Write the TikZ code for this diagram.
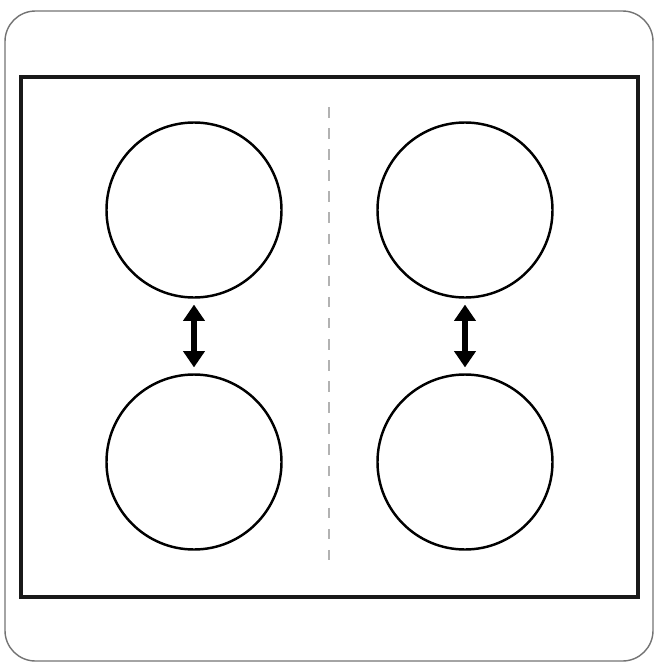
\documentclass[tikz,border=0pt]{standalone}
\usepackage{tikz}
\usetikzlibrary{positioning,arrows.meta}

\begin{document}
\begin{tikzpicture}[x=0.03cm,y=-0.03cm,
    ring/.style={circle,draw,line width=2.1pt,minimum size=5.25cm,inner sep=0pt},
    swap/.style={{Triangle[length=14pt,width=18pt]}-{Triangle[length=14pt,width=18pt]},
                 line width=4.4pt,shorten >=5pt,shorten <=5pt}]

  \useasboundingbox (0,0) rectangle (659,665);

  \draw [black!55,line width=1.2pt,rounded corners=26] (5,11) rectangle (653,661);
  \draw [black!90,line width=3.4pt] (21,77) rectangle (638,597);

  \draw [black!30,line width=1.1pt,dash pattern=on 9pt off 9pt]
  (329,107) -- (329,565);

  \node [ring] (LA) at (194,210) {};
  \node [ring] (LB) at (194,462) {};
  \node [ring] (RA) at (465,210) {};
  \node [ring] (RB) at (465,462) {};

  \draw [swap] (LA.south) -- (LB.north);
  \draw [swap] (RA.south) -- (RB.north);

\end{tikzpicture}
\end{document}
